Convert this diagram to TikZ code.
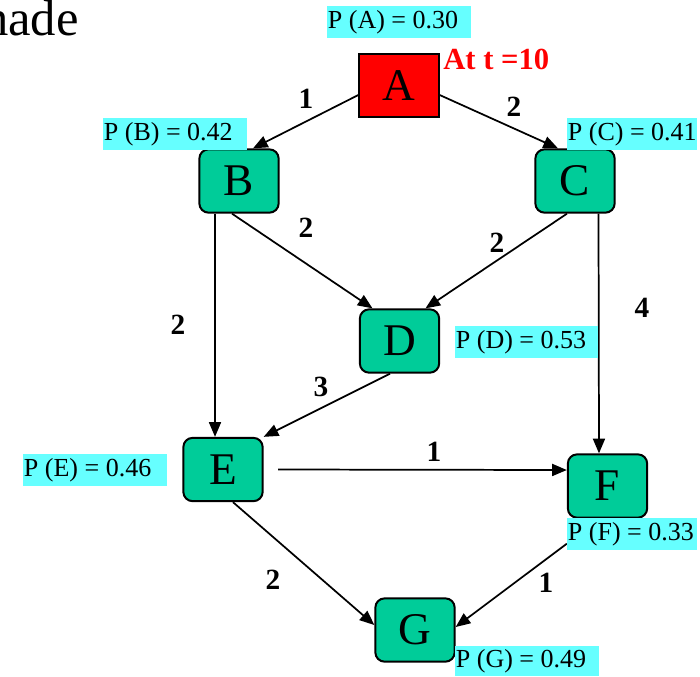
\documentclass[tikz,border=0pt]{standalone}
\usepackage{fontspec}
\setmainfont{Liberation Serif}
\usetikzlibrary{arrows.meta}
\definecolor{nodegreen}{RGB}{0,204,153}
\definecolor{labcyan}{RGB}{102,255,255}
\begin{document}
\begin{tikzpicture}[x=0.75pt,y=-0.75pt,
  box/.style={draw=black,line width=1.5pt,fill=nodegreen,rounded corners=7pt,
    minimum width=59.5pt,minimum height=47.5pt,inner sep=0pt,
    font=\fontsize{34}{34}\selectfont},
  redbox/.style={box,fill=red,rounded corners=0pt},
  pbox/.style={fill=labcyan,anchor=north west,inner xsep=0.5pt,inner ysep=0pt,
    minimum height=24pt,font=\fontsize{19.5}{20}\selectfont},
  arr/.style={line width=1.3pt,-{Triangle[length=11pt,width=9pt]}},
  wt/.style={font=\bfseries\fontsize{22}{22}\selectfont,inner sep=0pt}]
\useasboundingbox (0,0) rectangle (700,676);

% title fragment
\node[anchor=base east,inner sep=0pt,font=\fontsize{38}{38}\selectfont] (title) at (79,35) {nade};

% nodes
\node[redbox] (A) at (399,85.5) {A};
\node[box] (B) at (239,181) {B};
\node[box] (C) at (575,181) {C};
\node[box] (D) at (399.5,341) {D};
\node[box] (E) at (223,469.5) {E};
\node[box] (F) at (607.5,486) {F};
\node[box] (G) at (415,630) {G};

\node[anchor=base west,inner sep=0pt,text=red,font=\bfseries\fontsize{23}{23}\selectfont] (tlab) at (443,69) {At t =10};

% edges
\draw[arr] ([shift={(0,9.5)}]A.west) -- ([shift={(14,0)}]B.north);
\draw[arr] ([shift={(0,9.5)}]A.east) -- ([shift={(-17,0)}]C.north);
\draw[arr] ([shift={(-7,0)}]B.south) -- ([shift={(-27,0)}]D.north);
\draw[arr] ([shift={(-8,0)}]C.south) -- ([shift={(26,0)}]D.north);
\draw[arr] ([shift={(-24,0)}]B.south) -- ([shift={(-8,0)}]E.north);
\draw[arr] ([shift={(23.5,0)}]C.south) -- ([shift={(-8.5,0)}]F.north);
\draw[arr] ([shift={(-9.5,0)}]D.south) -- (E.north east);
\draw[arr] ([shift={(14.5,0)}]E.east) -- ([shift={(0,-16)}]F.west);
\draw[arr] ([shift={(10,0)}]E.south) -- ([shift={(0,-5)}]G.west);
\draw[arr] ([shift={(0,25)}]F.south west) -- ([shift={(0,-3)}]G.east);

% weights
\node[wt] (w1) at (306,99) {1};
\node[wt] (w2) at (514,107) {2};
\node[wt] (w3) at (306,228) {2};
\node[wt] (w4) at (497,243) {2};
\node[wt] (w5) at (178,325) {2};
\node[wt] (w6) at (642,308) {4};
\node[wt] (w7) at (321,387) {3};
\node[wt] (w8) at (434,452) {1};
\node[wt] (w9) at (273,580) {2};
\node[wt] (w10) at (546,583) {1};

% probability labels
\node[pbox,minimum width=108pt] (pA) at (327,6) {\makebox[107pt][l]{P (A) = 0.30}};
\node[pbox,minimum width=108pt] (pB) at (103,118) {\makebox[107pt][l]{P (B) = 0.42}};
\node[pbox,minimum width=97.5pt] (pC) at (567,118) {\makebox[96.5pt][l]{P (C) = 0.41}};
\node[pbox,minimum width=107pt] (pD) at (455,326) {\makebox[106pt][l]{P (D) = 0.53}};
\node[pbox,minimum width=108pt] (pE) at (23,454) {\makebox[107pt][l]{P (E) = 0.46}};
\node[pbox,minimum width=97.5pt] (pF) at (567,518) {\makebox[96.5pt][l]{P (F) = 0.33}};
\node[pbox,minimum width=108pt,minimum height=22.5pt] (pG) at (455,646) {\makebox[107pt][l]{P (G) = 0.49}};
\end{tikzpicture}
\end{document}
